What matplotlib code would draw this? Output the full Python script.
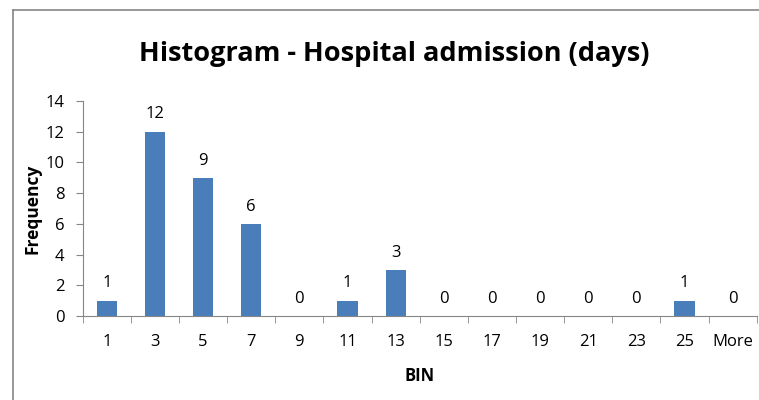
import matplotlib
matplotlib.use('Agg')
import matplotlib.pyplot as plt
from matplotlib.lines import Line2D
import numpy as np

bins = ['1', '3', '5', '7', '9', '11', '13', '15', '17', '19', '21', '23', '25', 'More']
frequency = [1, 12, 9, 6, 0, 1, 3, 0, 0, 0, 0, 0, 1, 0]

plt.rcParams['font.family'] = ['Open Sans', 'DejaVu Sans']

fig = plt.figure(figsize=(7.59, 4.0), dpi=100)
ax = fig.add_axes([0.109, 0.21, 0.888, 0.5375])

x = np.arange(len(bins))
bars = ax.bar(x, frequency, width=0.42, color='#4A7EBB')

for xi, v in zip(x, frequency):
    ax.text(xi, v + 0.6, str(v), ha='center', va='bottom', fontsize=12)

ax.set_xlim(-0.5, len(bins) - 0.5)
ax.set_ylim(0, 14)
ax.set_yticks(range(0, 15, 2))
ax.set_xticks(x)
ax.set_xticklabels(bins, fontsize=12)
ax.set_xticks(np.arange(-0.5, len(bins), 1), minor=True)
ax.tick_params(axis='x', which='major', length=0, pad=13)
ax.tick_params(axis='x', which='minor', length=5, color='#868686')
ax.tick_params(axis='y', length=5, color='#868686', labelsize=12, pad=8)

for s in ['top', 'right']:
    ax.spines[s].set_visible(False)
ax.spines['left'].set_color('#868686')
ax.spines['bottom'].set_color('#868686')

ax.set_xlabel('BIN', fontsize=12, fontweight='bold', labelpad=12)
ax.set_ylabel('Frequency', fontsize=12.5, fontweight='bold', labelpad=3)
fig.text(0.52, 0.865, 'Histogram - Hospital admission (days)', ha='center', va='center',
         fontsize=19.5, fontweight='bold')

# outer chart border (left and top only are visible)
fig.add_artist(Line2D([13 / 759, 13 / 759], [0, 1 - 10 / 400], color='#868686', lw=1.2))
fig.add_artist(Line2D([13 / 759, 1], [1 - 10 / 400, 1 - 10 / 400], color='#868686', lw=1.2))

fig.savefig('out.png', dpi=100)
